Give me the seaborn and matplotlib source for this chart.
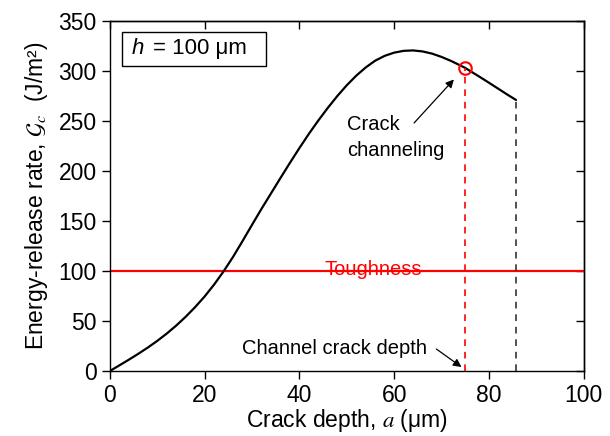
import matplotlib
matplotlib.use("Agg")
import matplotlib.pyplot as plt
from matplotlib.patches import Rectangle
import seaborn as sns
import pandas as pd

# Energy-release rate along the crack depth (h = 100 um)
depth_um = [0, 2, 4, 6, 8, 10, 12, 14, 16, 18, 20, 22, 24, 26, 28, 30, 32,
            34, 36, 38, 40, 42, 44, 46, 48, 50, 52, 54, 56, 58, 60, 62, 64,
            66, 68, 70, 72, 74, 75, 76, 78, 80, 82, 84, 85.7]
energy_release = [0, 5.6, 11.3, 17.2, 23.4, 30.1, 37.4, 45.4, 54.2, 63.9,
                  74.5, 86.4, 99.6, 114.1, 129.9, 146.1, 162.1, 177.5, 192.9,
                  208.1, 222.9, 237.1, 250.5, 263.1, 274.9, 285.7, 295.3,
                  303.5, 310.3, 315.1, 318.3, 320.1, 320.5, 319.5, 317.3,
                  314.0, 310.0, 305.4, 303.0, 300.0, 294.2, 288.2, 282.1,
                  276.0, 271.0]

toughness = 100
channel_depth = 75
channel_energy = 303
max_depth = 85.7
max_energy = 271

x_ticks = [0, 20, 40, 60, 80, 100]
y_ticks = [0, 50, 100, 150, 200, 250, 300, 350]

sns.set_style("ticks", {"axes.edgecolor": "black", "text.color": "black",
                        "xtick.color": "black", "ytick.color": "black",
                        "axes.labelcolor": "black"})
plt.rcParams["font.family"] = ["Liberation Sans", "DejaVu Sans"]
plt.rcParams["mathtext.fontset"] = "stix"
plt.rcParams["axes.linewidth"] = 1.0

fig = plt.figure(figsize=(6.1, 4.36), dpi=100)
ax = fig.add_axes([0.180, 0.149, 0.777, 0.803])

df = pd.DataFrame({"a": depth_um, "G": energy_release})
sns.lineplot(data=df, x="a", y="G", ax=ax, color="black", linewidth=1.6)

ax.axhline(toughness, color="red", linewidth=1.6, zorder=1)
ax.text(55.5, toughness + 1.5, "Toughness", color="red", fontsize=14.5,
        ha="center", va="center")

ax.plot([channel_depth, channel_depth], [0, channel_energy], color="red",
        linestyle=(0, (4, 3.5)), linewidth=1.2)
ax.plot([max_depth, max_depth], [0, max_energy], color="#333333",
        linestyle=(0, (4, 3.5)), linewidth=1.2)
ax.plot([channel_depth], [channel_energy], marker="o", markersize=9,
        markerfacecolor="none", markeredgecolor="red", markeredgewidth=1.5)

ax.annotate("", xy=(72.6, 291.5), xytext=(64.2, 248),
            arrowprops=dict(arrowstyle="-|>", color="black", lw=0.9,
                            mutation_scale=12, shrinkA=0, shrinkB=0))
ax.text(50, 246, "Crack", fontsize=14.5, ha="left", va="center")
ax.text(50, 220, "channeling", fontsize=14.5, ha="left", va="center")

ax.annotate("", xy=(74.2, 4), xytext=(68.9, 22),
            arrowprops=dict(arrowstyle="-|>", color="black", lw=0.9,
                            mutation_scale=12, shrinkA=0, shrinkB=0))
ax.text(27.8, 23, "Channel crack depth", fontsize=14.5, ha="left", va="center")

# Thickness label in a framed box
ax.add_patch(Rectangle((0.0247, 0.872), 0.304, 0.097, transform=ax.transAxes,
                       fill=False, edgecolor="black", linewidth=1.0, zorder=5))
ax.text(0.046, 0.921, "h", style="italic", fontsize=16, transform=ax.transAxes,
        ha="left", va="center")
ax.text(0.091, 0.921, "= 100 μm", fontsize=16, transform=ax.transAxes,
        ha="left", va="center")

ax.set_xlim(0, 100)
ax.set_ylim(0, 350)
ax.set_xticks(x_ticks)
ax.set_yticks(y_ticks)
ax.tick_params(direction="out", length=6, width=1.0, labelsize=16.5,
               colors="black")
for side in ["top", "right"]:
    ax.spines[side].set_visible(True)

top = ax.secondary_xaxis("top")
top.set_xticks(x_ticks)
top.tick_params(direction="in", length=6, width=1.0, labeltop=False)
right = ax.secondary_yaxis("right")
right.set_yticks(y_ticks)
right.tick_params(direction="in", length=6, width=1.0, labelright=False)

ax.set_xlabel("Crack depth, $a$ (μm)", fontsize=16.5, labelpad=0)
ax.set_ylabel("Energy-release rate, $\\mathcal{G}_c$  (J/m²)", fontsize=16.5,
              labelpad=6)

fig.savefig("out.png", dpi=100)
